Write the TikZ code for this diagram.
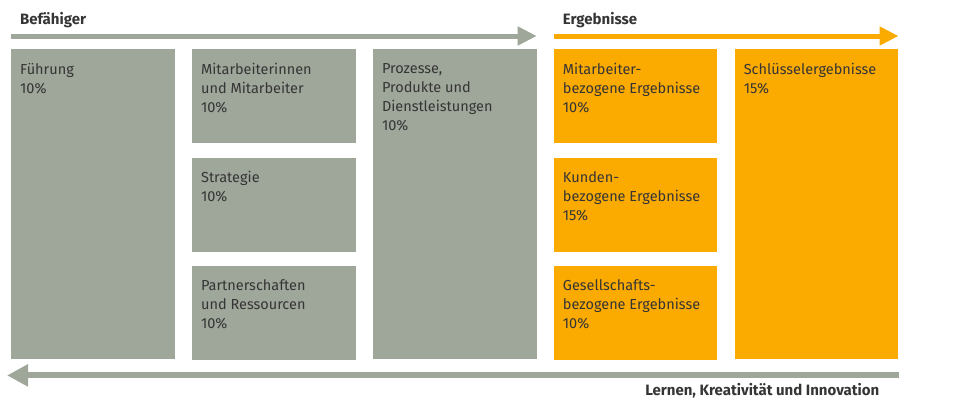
\documentclass[tikz,border=0pt]{standalone}
\usepackage{fontspec}
\setmainfont{Fira Sans}
\usepackage{xcolor}
\usetikzlibrary{arrows.meta,positioning}
\definecolor{EFGray}{HTML}{9FA69A}
\definecolor{EFOrange}{HTML}{FBAA00}
\definecolor{EFText}{HTML}{353535}

\begin{document}
\begin{tikzpicture}[
  enabler/.style={fill=EFGray,minimum width=163.5pt,inner sep=0pt,anchor=north west},
  result/.style={fill=EFOrange,minimum width=163.5pt,inner sep=0pt,anchor=north west},
  short/.style={minimum height=94pt},
  tall/.style={minimum height=310pt},
  boxtext/.style={anchor=north west,inner sep=0pt,align=left,text=EFText,font=\fontsize{14.5}{19}\selectfont},
  heading/.style={inner sep=0pt,text=EFText,font=\fontsize{15}{17}\selectfont\bfseries},
  flow/.style={line width=5pt,-{Triangle[length=19pt,width=18pt]}},
  node distance=14pt and 17pt
]
\useasboundingbox (0,0) rectangle (955pt,-399pt);
% Befaehiger
\node[enabler,tall] (fuehrung) at (11pt,-49pt) {};
\node[enabler,short] (mitarb) at ([xshift=17pt]fuehrung.north east) {};
\node[enabler,short,below=of mitarb] (strategie) {};
\node[enabler,short,below=of strategie] (partner) {};
\node[enabler,tall] (prozesse) at ([xshift=17pt]mitarb.north east) {};
% Ergebnisse
\node[result,short] (mitergeb) at ([xshift=17pt]prozesse.north east) {};
\node[result,short,below=of mitergeb] (kunden) {};
\node[result,short,below=of kunden] (gesell) {};
\node[result,tall] (schluessel) at ([xshift=17pt]mitergeb.north east) {};
% Beschriftungen
\node[boxtext] at ([xshift=9pt,yshift=-14pt]fuehrung.north west) {Führung\\10\%};
\node[boxtext] at ([xshift=9pt,yshift=-14pt]mitarb.north west) {Mitarbeiterinnen\\und Mitarbeiter\\10\%};
\node[boxtext] at ([xshift=9pt,yshift=-14pt]strategie.north west) {Strategie\\10\%};
\node[boxtext] at ([xshift=9pt,yshift=-14pt]partner.north west) {Partnerschaften\\und Ressourcen\\10\%};
\node[boxtext] at ([xshift=9pt,yshift=-14pt]prozesse.north west) {Prozesse,\\Produkte und\\Dienstleistungen\\10\%};
\node[boxtext] at ([xshift=9pt,yshift=-14pt]mitergeb.north west) {Mitarbeiter-\\bezogene Ergebnisse\\10\%};
\node[boxtext] at ([xshift=9pt,yshift=-14pt]kunden.north west) {Kunden-\\bezogene Ergebnisse\\15\%};
\node[boxtext] at ([xshift=9pt,yshift=-14pt]gesell.north west) {Gesellschafts-\\bezogene Ergebnisse\\10\%};
\node[boxtext] at ([xshift=9pt,yshift=-14pt]schluessel.north west) {Schlüsselergebnisse\\15\%};
% Pfeile
\node[heading,anchor=base west] (befaehiger) at ([xshift=9pt,yshift=25pt]fuehrung.north west) {Befähiger};
\node[heading,anchor=base west] (ergebnisse) at ([xshift=9pt,yshift=25pt]mitergeb.north west) {Ergebnisse};
\coordinate (befstart) at ([yshift=13pt]fuehrung.north west);
\coordinate (befend) at ([yshift=13pt]prozesse.north east);
\coordinate (ergstart) at ([yshift=13pt]mitergeb.north west);
\coordinate (ergend) at ([yshift=13pt]schluessel.north east);
\draw[flow,EFGray] (befstart) -- (befend);
\draw[flow,EFOrange] (ergstart) -- (ergend);
\coordinate (lernstart) at ([yshift=-16pt]schluessel.south east);
\coordinate (lernend) at ([xshift=-4pt,yshift=-16pt]fuehrung.south west);
\draw[flow,EFGray,line width=6pt,-{Triangle[length=21pt,width=21pt]}] (lernstart) -- (lernend);
\node[heading,anchor=base east] (lernen) at ([xshift=-19pt,yshift=-36pt]schluessel.south east) {Lernen, Kreativität und Innovation};
\end{tikzpicture}
\end{document}
